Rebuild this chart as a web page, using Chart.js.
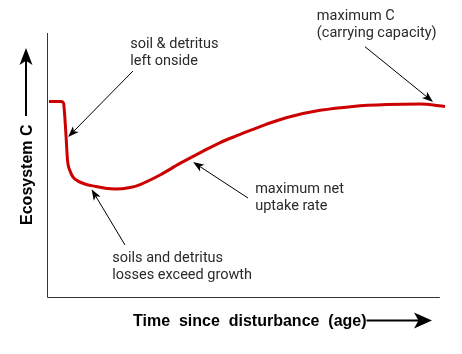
<!DOCTYPE html>
<html>
<head>
<meta charset="utf-8">
<script src="https://cdn.jsdelivr.net/npm/chart.js@4.4.1/dist/chart.umd.min.js"></script>
<style>
  html, body { margin: 0; padding: 0; background: #fff; }
</style>
</head>
<body>
<canvas id="chart" width="462" height="354"></canvas>
<script>
// stand age (0-100) and ecosystem carbon (0-100)
const ageValues = [0.5, 3.5, 4.15, 4.4, 4.8, 5.15, 5.8, 6.5, 7.8, 9.5, 12.1, 14.6, 17.1,
  20.9, 23.4, 28.4, 33.4, 38.4, 43.5, 47.7, 51.8, 56.0, 60.3, 68.6, 76.9, 85.4, 93.7, 100];
const carbonValues = [74.1, 74.1, 73.5, 69.7, 60.6, 51.9, 47.7, 45.5, 43.9, 42.8, 41.9, 41.2, 40.9,
  41.5, 42.6, 46.2, 50.6, 54.6, 58.5, 61.1, 63.5, 65.9, 68.0, 70.7, 72.2, 72.9, 73.1, 72.2];

const xTitle = 'Time  since  disturbance  (age)';
const yTitle = 'Ecosystem C';
const xAxisEnd = 98.7;

// callouts: text lines, where the text sits and where the arrow runs (data units)
const noteLines = [
  ['soil & detritus', 'left onside'],
  ['maximum C', '(carrying capacity)'],
  ['maximum net', 'uptake rate'],
  ['soils and detritus', 'losses exceed growth']
];
const noteAnchors = [
  { x: 20.9, y: 94.3, from: [21.6, 85.6], to: [5.3, 60.6] },
  { x: 67.8, y: 104.9, from: [79.9, 94.8], to: [97.0, 73.9] },
  { x: 52.3, y: 39.4, from: [50.5, 37.5], to: [36.7, 51.1] },
  { x: 16.4, y: 13.4, from: [19.6, 19.7], to: [11.2, 40.8] }
];

function arrow(ctx, x1, y1, x2, y2, len, width, lw) {
  const a = Math.atan2(y2 - y1, x2 - x1);
  const cos = Math.cos(a), sin = Math.sin(a);
  const bx = x2 - cos * len, by = y2 - sin * len;
  ctx.lineWidth = lw;
  ctx.beginPath();
  ctx.moveTo(x1, y1);
  ctx.lineTo(x2 - cos * len * 0.7, y2 - sin * len * 0.7);
  ctx.stroke();
  ctx.beginPath();
  ctx.moveTo(x2, y2);
  ctx.lineTo(bx - sin * width / 2, by + cos * width / 2);
  ctx.lineTo(x2 - cos * len * 0.75, y2 - sin * len * 0.75);
  ctx.lineTo(bx + sin * width / 2, by - cos * width / 2);
  ctx.closePath();
  ctx.fill();
}

const decorations = {
  id: 'decorations',
  afterDraw(chart) {
    const ctx = chart.ctx;
    const xs = chart.scales.x, ys = chart.scales.y;
    const area = chart.chartArea;
    ctx.save();

    // axis lines
    ctx.strokeStyle = '#333';
    ctx.lineWidth = 1;
    ctx.beginPath();
    ctx.moveTo(area.left + 0.5, area.top);
    ctx.lineTo(area.left + 0.5, area.bottom + 0.5);
    ctx.lineTo(xs.getPixelForValue(xAxisEnd), area.bottom + 0.5);
    ctx.stroke();

    // axis titles with arrows
    ctx.fillStyle = '#000';
    ctx.strokeStyle = '#000';
    ctx.font = 'bold 16px "Liberation Sans", Arial, sans-serif';
    ctx.textBaseline = 'alphabetic';
    ctx.textAlign = 'left';
    const tx = area.left + 86, ty = area.bottom + 29;
    ctx.fillText(xTitle, tx, ty);
    const tw = ctx.measureText(xTitle).width;
    arrow(ctx, tx + tw, ty - 5.5, 432, ty - 5.5, 18, 16, 2);

    ctx.save();
    ctx.translate(area.left - 21.5, 174.7);
    ctx.rotate(-Math.PI / 2);
    ctx.textAlign = 'center';
    ctx.fillText(yTitle, 0, 6);
    ctx.restore();
    arrow(ctx, area.left - 21, 116, area.left - 21, 48, 17, 13, 2);

    // callouts
    ctx.font = '14.5px Roboto, "Liberation Sans", sans-serif';
    noteLines.forEach((lines, i) => {
      const n = noteAnchors[i];
      const px = xs.getPixelForValue(n.x), py = ys.getPixelForValue(n.y);
      ctx.fillStyle = '#2a2a2a';
      lines.forEach((t, j) => ctx.fillText(t, px, py + j * 17));
      ctx.fillStyle = '#000';
      arrow(ctx, xs.getPixelForValue(n.from[0]), ys.getPixelForValue(n.from[1]),
        xs.getPixelForValue(n.to[0]), ys.getPixelForValue(n.to[1]), 11, 8, 1);
    });
    ctx.restore();
  }
};

new Chart(document.getElementById('chart'), {
  type: 'line',
  data: {
    datasets: [{
      data: ageValues.map((a, i) => ({ x: a, y: carbonValues[i] })),
      borderColor: '#cc0000',
      borderWidth: 3,
      cubicInterpolationMode: 'monotone',
      pointRadius: 0,
      fill: false,
      clip: false
    }]
  },
  options: {
    responsive: false,
    animation: false,
    layout: { padding: { left: 47, right: 17, top: 33, bottom: 57 } },
    scales: {
      x: { type: 'linear', min: 0, max: 100, display: false },
      y: { min: 0, max: 100, display: false }
    },
    plugins: { legend: { display: false }, tooltip: { enabled: false } }
  },
  plugins: [decorations]
});
</script>
</body>
</html>
